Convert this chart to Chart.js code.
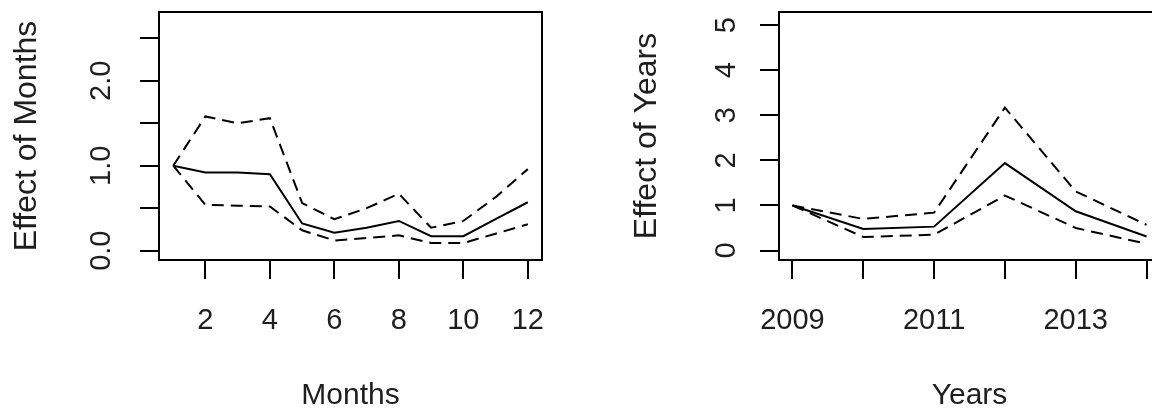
<!DOCTYPE html>
<html>
<head>
<meta charset="utf-8">
<script src="https://cdn.jsdelivr.net/npm/chart.js@4/dist/chart.umd.min.js"></script>
<style>
  html, body { margin: 0; padding: 0; background: #fff; }
  #wrap { position: relative; width: 1152px; height: 411px; overflow: hidden; }
  #monthChart { position: absolute; left: 0; top: 0; }
  #yearChart { position: absolute; left: 576px; top: 0; }
</style>
</head>
<body>
<div id="wrap">
  <canvas id="monthChart" width="576" height="411"></canvas>
  <canvas id="yearChart" width="620" height="411"></canvas>
</div>
<script>
// data
const months = [1, 2, 3, 4, 5, 6, 7, 8, 9, 10, 11, 12];
const monthEffect = [1.0, 0.92, 0.92, 0.90, 0.32, 0.21, 0.27, 0.35, 0.17, 0.17, 0.37, 0.57];
const monthUpper = [1.0, 1.58, 1.50, 1.56, 0.56, 0.37, 0.50, 0.67, 0.27, 0.35, 0.63, 0.96];
const monthLower = [1.0, 0.54, 0.53, 0.52, 0.24, 0.12, 0.15, 0.18, 0.09, 0.09, 0.20, 0.31];
const monthXTicks = [2, 4, 6, 8, 10, 12];
const monthYTicks = [0, 0.5, 1, 1.5, 2, 2.5];
const monthYLabels = ['0.0', '', '1.0', '', '2.0', ''];

const years = [2009, 2010, 2011, 2012, 2013, 2014];
const yearEffect = [1.0, 0.48, 0.53, 1.94, 0.87, 0.31];
const yearUpper = [1.0, 0.70, 0.84, 3.17, 1.31, 0.57];
const yearLower = [1.0, 0.30, 0.35, 1.22, 0.50, 0.15];
const yearXTicks = [2009, 2010, 2011, 2012, 2013, 2014];
const yearXLabels = ['2009', '', '2011', '', '2013', ''];
const yearYTicks = [0, 1, 2, 3, 4, 5];

const FONT = "Arial, 'Liberation Sans', sans-serif";
const INK = '#1e1e1e';

// box round the plot area, like R's box()
const boxPlugin = {
    id: 'box',
    afterDraw(chart) {
        const a = chart.chartArea;
        const ctx = chart.ctx;
        ctx.save();
        ctx.strokeStyle = '#000';
        ctx.lineWidth = 2;
        ctx.strokeRect(a.left, a.top, a.right - a.left, a.bottom - a.top);
        ctx.restore();
    }
};

function pts(xs, ys) {
    return xs.map((x, i) => ({ x: x, y: ys[i] }));
}

function lineSet(xs, ys, dashed) {
    return {
        data: pts(xs, ys),
        borderColor: '#000',
        borderWidth: 2,
        borderDash: dashed ? [12, 7] : [],
        pointRadius: 0,
        tension: 0,
        fill: false
    };
}

function makeChart(id, cfg) {
    return new Chart(document.getElementById(id), {
        type: 'line',
        data: {
            datasets: [
                lineSet(cfg.xs, cfg.mid, false),
                lineSet(cfg.xs, cfg.up, true),
                lineSet(cfg.xs, cfg.low, true)
            ]
        },
        options: {
            responsive: false,
            animation: false,
            layout: { padding: { left: 0, right: cfg.padRight, top: 12, bottom: 0 } },
            plugins: { legend: { display: false }, tooltip: { enabled: false } },
            scales: {
                x: {
                    type: 'linear',
                    min: cfg.xMin, max: cfg.xMax,
                    afterBuildTicks: ax => { ax.ticks = cfg.xTicks.map(v => ({ value: v })); },
                    afterFit: ax => { ax.height = 151; ax.paddingLeft = 0; ax.paddingRight = 0; },
                    border: { display: false },
                    grid: { drawOnChartArea: false, drawTicks: true, tickLength: 19, color: '#000', lineWidth: 2 },
                    ticks: {
                        padding: 25, color: INK, maxRotation: 0, autoSkip: false,
                        font: { family: FONT, size: 29 },
                        callback: (v, i) => cfg.xLabels[i]
                    },
                    title: {
                        display: true, text: cfg.xTitle, color: INK,
                        font: { family: FONT, size: 30, lineHeight: 1 },
                        padding: { top: 0, bottom: 0 }
                    }
                },
                y: {
                    type: 'linear',
                    min: cfg.yMin, max: cfg.yMax,
                    afterBuildTicks: ax => { ax.ticks = cfg.yTicks.map(v => ({ value: v })); },
                    afterFit: ax => { ax.width = cfg.yWidth; ax.paddingTop = 0; ax.paddingBottom = 0; },
                    border: { display: false },
                    grid: { drawOnChartArea: false, drawTicks: true, tickLength: 19, color: '#000', lineWidth: 2 },
                    ticks: {
                        padding: cfg.yTickPad, color: INK, minRotation: 90, maxRotation: 90,
                        crossAlign: 'center', autoSkip: false,
                        font: { family: FONT, size: 29 },
                        callback: (v, i) => cfg.yLabels[i]
                    },
                    title: {
                        display: true, text: cfg.yTitle, color: INK,
                        font: { family: FONT, size: 32, lineHeight: 1 },
                        padding: { top: cfg.yTitlePad, bottom: 0 }
                    }
                }
            }
        },
        plugins: [boxPlugin]
    });
}

makeChart('monthChart', {
    xs: months, mid: monthEffect, up: monthUpper, low: monthLower,
    xMin: 0.56, xMax: 12.44, yMin: -0.11, yMax: 2.81,
    xTicks: monthXTicks, xLabels: monthXTicks.map(String),
    yTicks: monthYTicks, yLabels: monthYLabels,
    xTitle: 'Months', yTitle: 'Effect of Months',
    padRight: 34, yWidth: 159, yTickPad: 18, yTitlePad: 11
});

makeChart('yearChart', {
    xs: years, mid: yearEffect, up: yearUpper, low: yearLower,
    xMin: 2008.81, xMax: 2014.19, yMin: -0.21, yMax: 5.29,
    xTicks: yearXTicks, xLabels: yearXLabels,
    yTicks: yearYTicks, yLabels: yearYTicks.map(String),
    xTitle: 'Years', yTitle: 'Effect of Years',
    padRight: 36, yWidth: 203, yTickPad: 25, yTitlePad: 55
});
</script>
</body>
</html>
